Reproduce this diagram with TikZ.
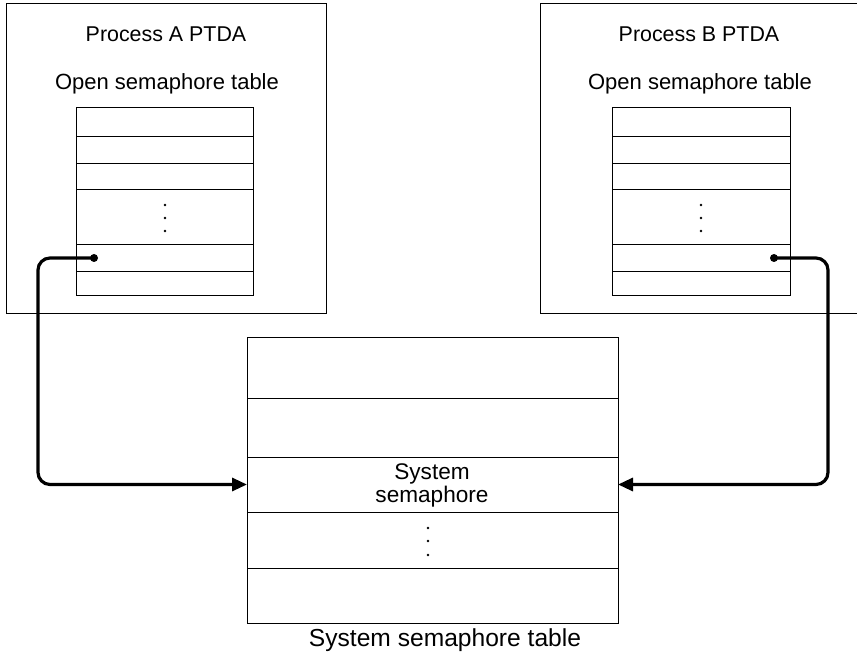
\documentclass[tikz,border=0pt]{standalone}
\usepackage{fontspec}
\setmainfont{Liberation Sans}
\usetikzlibrary{arrows.meta}
\tikzset{
  outerbox/.style={draw, line width=0.9pt, anchor=north west, inner sep=0pt},
  cellrow/.style={draw, line width=0.9pt, anchor=north west, inner sep=0pt, outer sep=0pt},
  lbl/.style={anchor=base, inner sep=0pt, font=\fontsize{22.6}{26}\selectfont},
  titlelbl/.style={anchor=base, inner sep=0pt, font=\fontsize{21.4}{26}\selectfont},
  sublbl/.style={anchor=base, inner sep=0pt, font=\fontsize{22}{26}\selectfont},
  biglbl/.style={anchor=base, inner sep=0pt, font=\fontsize{24.6}{28}\selectfont},
  ptr/.style={circle, fill, inner sep=0pt, minimum size=8pt},
  vdot/.style={circle, fill, inner sep=0pt, minimum size=2.6pt},
  conn/.style={line width=3.2pt, rounded corners=12pt, -{Triangle[length=15pt,width=13pt]}}
}
\begin{document}
\begin{tikzpicture}[x=1pt,y=-1pt]
\useasboundingbox (0,0) rectangle (857,652);
\fill[white] (0,0) rectangle (857,652);

% outer PTDA boxes
\node[outerbox, minimum width=320pt, minimum height=310pt] (boxA) at (6,3) {};
\node[outerbox, minimum width=322pt, minimum height=310pt] (boxB) at (540,3) {};

\node[titlelbl] (titleA) at (166,42) {Process A PTDA};
\node[sublbl] (subA) at (167,90) {Open semaphore table};
\node[titlelbl] (titleB) at (699,42) {Process B PTDA};
\node[sublbl] (subB) at (700,90) {Open semaphore table};

% table A
\foreach \y/\h/\n in {107/29/1,136/27/2,163/26/3,189/55/4,244/27/5,271/24/6}{
  \node[cellrow, minimum width=177pt, minimum height=\h pt] (A\n) at (76,\y) {};
}
% table B
\foreach \y/\h/\n in {107/29/1,136/27/2,163/26/3,189/55/4,244/27/5,271/24/6}{
  \node[cellrow, minimum width=178pt, minimum height=\h pt] (B\n) at (612,\y) {};
}
\foreach \y in {205,218,231}{
  \node[vdot] at (165,\y) {};
  \node[vdot] at (701,\y) {};
}

% system table
\node[cellrow, minimum width=371pt, minimum height=61pt] (S1) at (247,337) {};
\node[cellrow, minimum width=371pt, minimum height=59pt] (S2) at (247,398) {};
\node[cellrow, minimum width=371pt, minimum height=55pt] (S3) at (247,457) {};
\node[cellrow, minimum width=371pt, minimum height=56pt] (S4) at (247,512) {};
\node[cellrow, minimum width=371pt, minimum height=55pt] (S5) at (247,568) {};
\node[lbl] (sysA) at (432,479) {System};
\node[lbl] (sysB) at (432,502) {semaphore};
\foreach \y in {528,541,555}{
  \node[vdot] at (428,\y) {};
}
\node[biglbl] (systitle) at (445,646) {System semaphore table};

% pointers
\node[ptr] (pa) at (94,258) {};
\node[ptr] (pb) at (774,258) {};
\coordinate (la) at (38,484.5);
\coordinate (lb) at (828,484.5);
\draw[conn] (pa.center) -| (la) -- (S3.west);
\draw[conn] (pb.center) -| (lb) -- (S3.east);
\end{tikzpicture}
\end{document}
